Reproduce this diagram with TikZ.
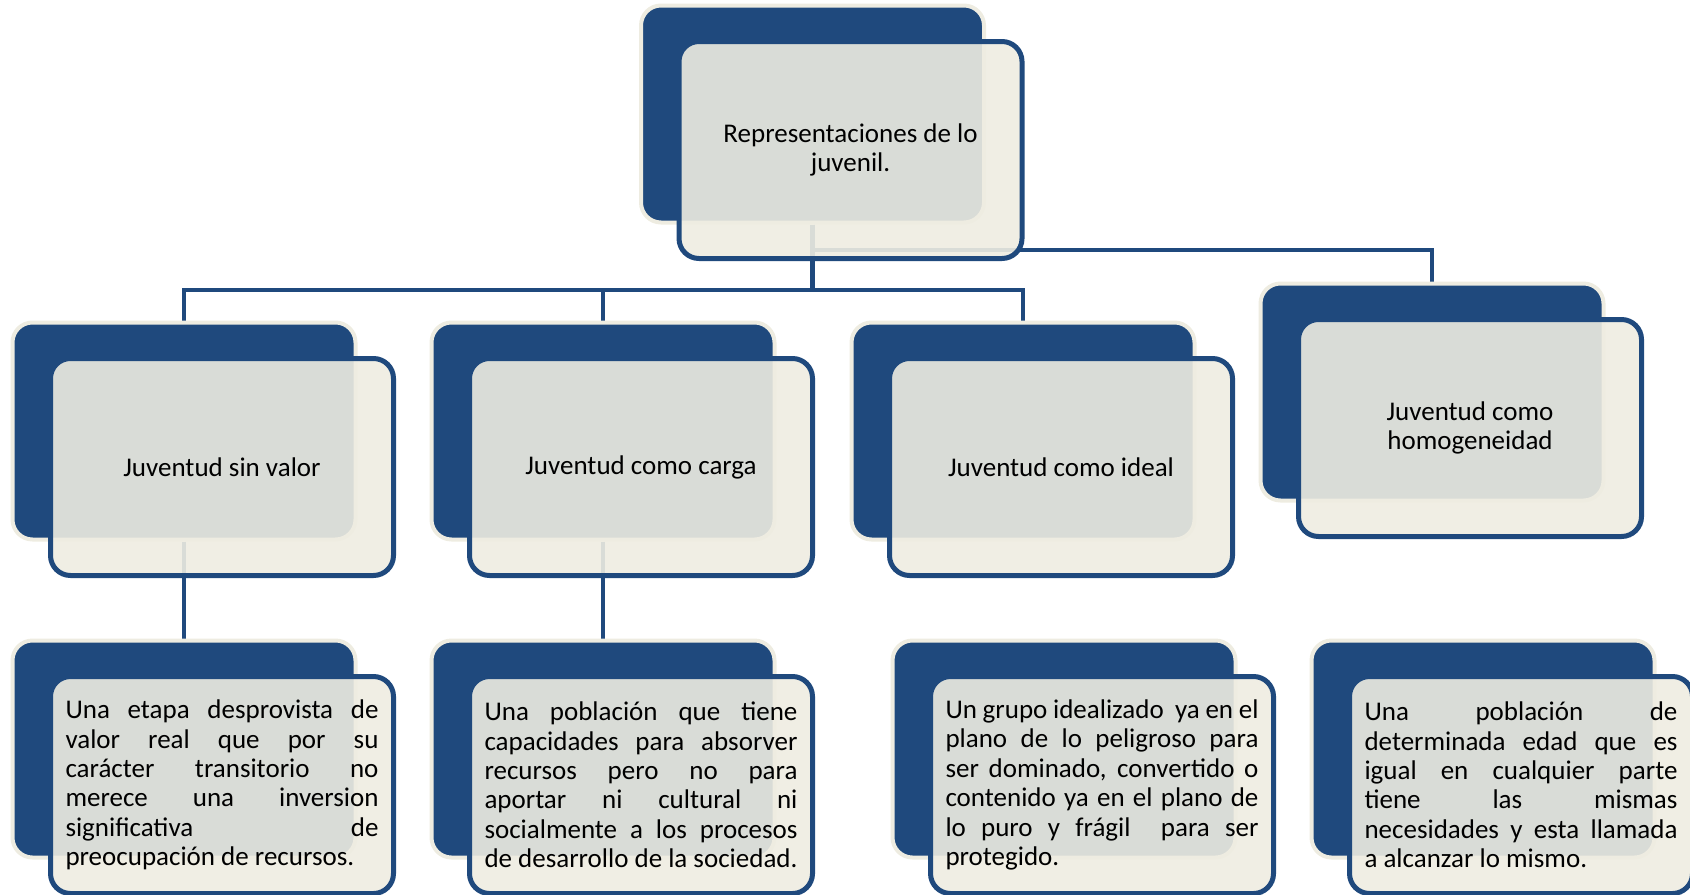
\documentclass[tikz,border=0pt]{standalone}
\usepackage{fontspec}
\setmainfont{Carlito}
\usepackage{tikz}
\usetikzlibrary{backgrounds}
\usepackage{xcolor}
\definecolor{azul}{HTML}{1F497D}
\definecolor{crema}{HTML}{EEECE1}

\begin{document}
\begin{tikzpicture}[
  x=0.5pt, y=-0.5pt,
  fondo/.style={rectangle, rounded corners=10pt, minimum width=171.5pt, minimum height=108.5pt,
    fill=azul, draw=crema, line width=2pt},
  frente/.style={rectangle, rounded corners=10pt, minimum width=171.5pt, minimum height=108.5pt,
    fill=crema, fill opacity=0.9, text opacity=1, draw=azul, line width=2.5pt, align=center},
  parrafo/.style={frente, text width=156.5pt, align=justify},
  linea/.style={draw=azul, line width=2.25pt}
  ]
  \tikzstyle{every node}=[font=\fontsize{13.5}{14.7}\selectfont]
  \useasboundingbox (0,0) rectangle (1690,894);

  % raiz
  \node[fondo] (raiz-fondo) at (812.5,114) {};
  \node[frente] (raiz) at ([shift={(38,36)}]raiz-fondo.center) {Representaciones de lo\\juvenil.};

  % segundo nivel
  \node[fondo] (sinvalor-fondo) at (184,431) {};
  \node[frente] (sinvalor) at ([shift={(38,36)}]sinvalor-fondo.center) {Juventud sin valor};
  \node[fondo] (carga-fondo) at (603,431) {};
  \node[frente] (carga) at ([shift={(38,36)}]carga-fondo.center) {Juventud como carga};
  \node[fondo] (ideal-fondo) at (1023,431) {};
  \node[frente] (ideal) at ([shift={(38,36)}]ideal-fondo.center) {Juventud como ideal};
  \node[fondo] (homog-fondo) at (1432,392) {};
  \node[frente] (homog) at ([shift={(38,36)}]homog-fondo.center) {Juventud como\\homogeneidad};

  % tercer nivel
  \node[fondo] (etapa-fondo) at (184,749) {};
  \node[parrafo] (etapa) at ([shift={(38,36)}]etapa-fondo.center) {Una etapa desprovista de\linebreak
    valor real que por su\linebreak carácter transitorio no\linebreak merece una inversion\linebreak
    significativa de\linebreak preocupación de recursos.};
  \node[fondo] (poblacion-fondo) at (603,749) {};
  \node[parrafo] (poblacion) at ([shift={(38,36)}]poblacion-fondo.center) {Una población que tiene\linebreak
    capacidades para absorver\linebreak recursos pero no para\linebreak aportar ni cultural ni\linebreak
    socialmente a los procesos\linebreak de desarrollo de la sociedad.};
  \node[fondo] (grupo-fondo) at (1064,749) {};
  \node[parrafo] (grupo) at ([shift={(38,36)}]grupo-fondo.center) {Un grupo idealizado \ ya en el\linebreak
    plano de lo peligroso para\linebreak ser dominado, convertido o\linebreak contenido ya en el plano de\linebreak
    lo puro y frágil \ para ser\linebreak protegido.};
  \node[fondo] (igual-fondo) at (1483,749) {};
  \node[parrafo] (igual) at ([shift={(38,36)}]igual-fondo.center) {Una población de\linebreak
    determinada edad que es\linebreak igual en cualquier parte\linebreak tiene las mismas\linebreak
    necesidades y esta llamada\linebreak a alcanzar lo mismo.};

  % conectores
  \begin{pgfonlayer}{background}
    \coordinate (bus) at (0,290);
    \coordinate (bus2) at (0,250);
    \draw[linea] (raiz-fondo.south) -- (raiz-fondo.south |- bus) -| (sinvalor-fondo.north);
    \draw[linea] (raiz-fondo.south) -- (raiz-fondo.south |- bus) -| (carga-fondo.north);
    \draw[linea] (raiz-fondo.south) -- (raiz-fondo.south |- bus) -| (ideal-fondo.north);
    \draw[linea] (raiz-fondo.south) -- (raiz-fondo.south |- bus2) -| (homog-fondo.north);
    \draw[linea] (sinvalor-fondo.south) -- (etapa-fondo.north);
    \draw[linea] (carga-fondo.south) -- (poblacion-fondo.north);
  \end{pgfonlayer}
\end{tikzpicture}
\end{document}
